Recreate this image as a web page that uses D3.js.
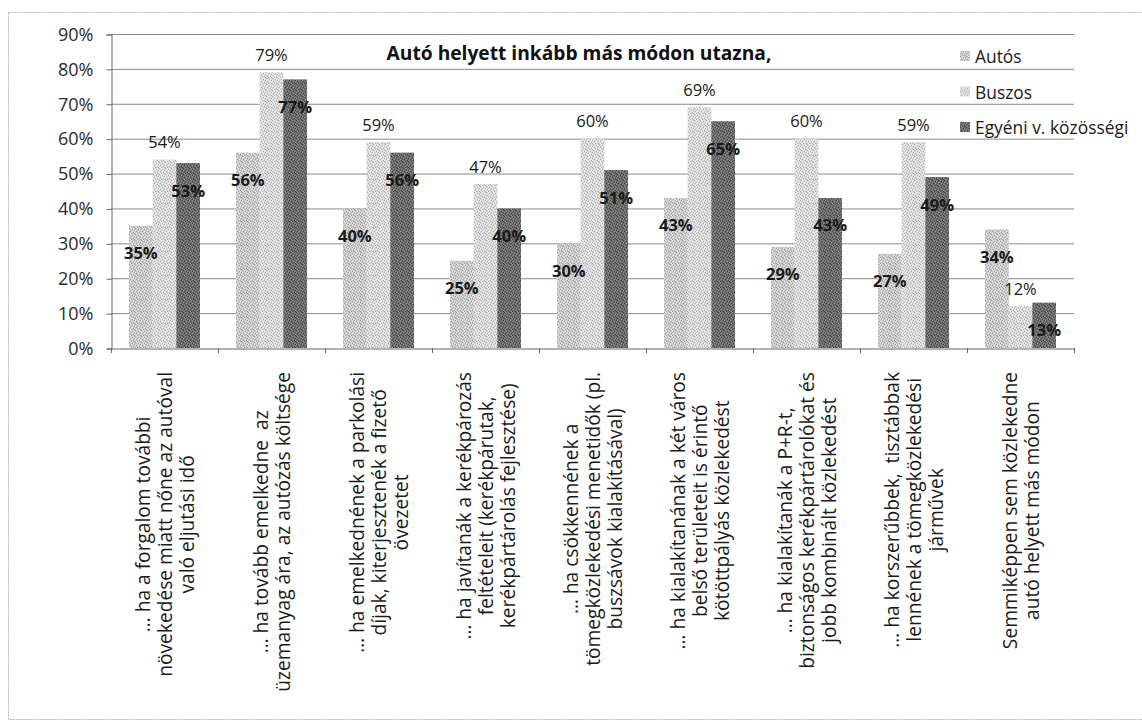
<!DOCTYPE html>
<html>
<head>
<meta charset="utf-8">
<script src="https://cdn.jsdelivr.net/npm/d3@7"></script>
<style>
  html, body { margin: 0; padding: 0; background: #fff; }
  svg { display: block; }
  text { font-family: "Open Sans", "Noto Sans", sans-serif; }
</style>
</head>
<body>
<svg id="chart" width="1142" height="724"></svg>
<script>
// Survey answers: share of respondents who would travel some other way instead of by car
const categories = [
  ["… ha a forgalom további", "növekedése miatt nőne az autóval", "való eljutási idő"],
  ["… ha tovább emelkedne  az", "üzemanyag ára, az autózás költsége"],
  ["… ha emelkednének a parkolási", "díjak, kiterjesztenék a fizető", "övezetet"],
  ["… ha javítanák a kerékpározás", "feltételeit (kerékpárutak,", "kerékpártárolás fejlesztése)"],
  ["… ha csökkennének a", "tömegközlekedési menetidők (pl.", "buszsávok kialakításával)"],
  ["… ha kialakítanának a két város", "belső területeit is érintő", "kötöttpályás közlekedést"],
  ["… ha kialakítanák a P+R-t,", "biztonságos kerékpártárolókat és", "jobb kombinált közlekedést"],
  ["… ha korszerűbbek,  tisztábbak", "lennének a tömegközlekedési", "járművek"],
  ["Semmiképpen sem közlekedne", "autó helyett más módon"]
];
const seriesNames = ["Autós", "Buszos", "Egyéni v. közösségi"];
const autos   = [35, 56, 40, 25, 30, 43, 29, 27, 34];
const buszos  = [54, 79, 59, 47, 60, 69, 60, 59, 12];
const egyeni  = [53, 77, 56, 40, 51, 65, 43, 49, 13];
const yTicks  = [0, 10, 20, 30, 40, 50, 60, 70, 80, 90];
const title   = "Autó helyett inkább más módon utazna,";

const seriesValues = [autos, buszos, egyeni];
const fills = ["url(#texA)", "url(#texB)", "url(#texC)"];

const svg = d3.select("#chart");
const plot = { left: 111, right: 1074, top: 34, bottom: 348 };

// stippled fills, like a printed Excel chart
const defs = svg.append("defs");
function stipple(id, base, dark, light) {
  const p = defs.append("pattern").attr("id", id)
    .attr("patternUnits", "userSpaceOnUse").attr("width", 6).attr("height", 6);
  p.append("rect").attr("width", 6).attr("height", 6).attr("fill", base);
  const darkDots = [[0,0],[3,1],[5,2],[1,3],[4,4],[2,5],[5,5]];
  const lightDots = [[2,0],[0,2],[3,3],[1,5],[4,1],[5,4]];
  darkDots.forEach(([x, yy]) => p.append("rect").attr("x", x).attr("y", yy)
    .attr("width", 1).attr("height", 1).attr("fill", dark));
  lightDots.forEach(([x, yy]) => p.append("rect").attr("x", x).attr("y", yy)
    .attr("width", 1).attr("height", 1).attr("fill", light));
}
stipple("texA", "#cacaca", "#a0a0a0", "#ececec");
stipple("texB", "#dadada", "#b0b0b0", "#f6f6f6");
stipple("texC", "#6c6c6c", "#444", "#909090");

// outer chart frame
svg.append("rect")
  .attr("x", 8.5).attr("y", 12.5).attr("width", 1160).attr("height", 707)
  .attr("fill", "none").attr("stroke", "#b5b5b5").attr("stroke-width", 1)
  .attr("stroke-dasharray", "2,1");

const x0 = d3.scaleBand().domain(d3.range(categories.length))
  .range([plot.left, plot.right]).paddingInner(0).paddingOuter(0);
const x1 = d3.scaleBand().domain(d3.range(seriesNames.length))
  .range([0, x0.bandwidth()]).paddingInner(0).paddingOuter(0.76);
const y = d3.scaleLinear().domain([0, 90]).range([plot.bottom, plot.top]);

// horizontal gridlines
svg.append("g").selectAll("line").data(yTicks.filter(d => d > 0)).join("line")
  .attr("x1", plot.left).attr("x2", plot.right)
  .attr("y1", d => y(d) + 0.5).attr("y2", d => y(d) + 0.5)
  .attr("stroke", "#8a8a8a").attr("stroke-width", 1);

// y axis
const yAxis = d3.axisLeft(y).tickValues(yTicks).tickFormat(d => d + "%").tickSize(5).tickPadding(13);
const gy = svg.append("g").attr("transform", `translate(${plot.left + 0.5},0.5)`).call(yAxis);
gy.select(".domain").attr("stroke", "#666");
gy.selectAll(".tick line").attr("stroke", "#666");
gy.selectAll(".tick text").attr("font-size", 18).attr("fill", "#2b2b2b")
  .style("font-family", "'Open Sans', sans-serif");

// bars
const groups = svg.append("g").selectAll("g").data(categories).join("g")
  .attr("transform", (d, i) => `translate(${x0(i)},0)`);
groups.selectAll("rect")
  .data((d, i) => seriesValues.map((vals, s) => ({ s, v: vals[i] })))
  .join("rect")
  .attr("x", d => x1(d.s))
  .attr("width", x1.bandwidth())
  .attr("y", d => y(d.v))
  .attr("height", d => y(0) - y(d.v))
  .attr("fill", d => fills[d.s]);

// x axis with category ticks
const gx = svg.append("g").attr("transform", `translate(0,${plot.bottom + 0.5})`)
  .call(d3.axisBottom(x0).tickSize(0).tickFormat(""));
gx.select(".domain").attr("stroke", "#666");
svg.append("g").selectAll("line").data(d3.range(categories.length + 1)).join("line")
  .attr("x1", i => Math.round(plot.left + i * x0.step()) + 0.5)
  .attr("x2", i => Math.round(plot.left + i * x0.step()) + 0.5)
  .attr("y1", plot.bottom).attr("y2", plot.bottom + 5)
  .attr("stroke", "#666");

// value labels: Buszos above bar, others just inside the top
groups.selectAll("text.val")
  .data((d, i) => seriesValues.map((vals, s) => ({ s, v: vals[i] })))
  .join("text").attr("class", "val")
  .attr("x", d => x1(d.s) + x1.bandwidth() / 2)
  .attr("y", d => d.s === 1 ? y(d.v) - 18 : y(d.v) + 27)
  .attr("text-anchor", "middle").attr("dominant-baseline", "central")
  .attr("font-size", 16.5)
  .attr("font-weight", d => d.s === 1 ? 400 : 700)
  .attr("fill", "#1a1a1a")
  .text(d => d.v + "%");

// rotated, multi-line category labels, sized so the longest line fills the space below the axis
const labelTop = 372, lineGap = 22, labelSpace = 320, probeSize = 20;
const labelLayer = svg.append("g");
const blocks = categories.map(lines => lines.map(ln => labelLayer.append("text")
  .attr("font-size", probeSize).attr("fill", "#1a1a1a")
  .attr("text-anchor", "middle").attr("dominant-baseline", "central")
  .style("white-space", "pre")
  .text(ln)));
const longest = d3.max(blocks.flat(), t => t.node().getComputedTextLength());
const labelSize = probeSize * labelSpace / longest;
blocks.forEach((texts, i) => {
  texts.forEach(t => t.attr("font-size", labelSize));
  const cx = x0(i) + x0.bandwidth() / 2;
  const maxLen = d3.max(texts, t => t.node().getComputedTextLength());
  const cy = labelTop + maxLen / 2;
  texts.forEach((t, j) => {
    const lx = cx + (j - (texts.length - 1) / 2) * lineGap;
    t.attr("transform", `translate(${lx},${cy}) rotate(-90)`);
  });
});

// title
svg.append("text")
  .attr("x", 579).attr("y", 52)
  .attr("text-anchor", "middle").attr("dominant-baseline", "central")
  .attr("font-size", 19.2).attr("font-weight", 700).attr("fill", "#111")
  .text(title);

// legend
const legend = svg.append("g").selectAll("g").data(seriesNames).join("g")
  .attr("transform", (d, i) => `translate(960,${56 + i * 35.5})`);
legend.append("rect").attr("x", 0).attr("y", -5).attr("width", 10).attr("height", 10)
  .attr("fill", (d, i) => fills[i]);
legend.append("text").attr("x", 15).attr("y", 0)
  .attr("dominant-baseline", "central").attr("font-size", 17.4).attr("fill", "#1a1a1a")
  .text(d => d);
</script>
</body>
</html>
